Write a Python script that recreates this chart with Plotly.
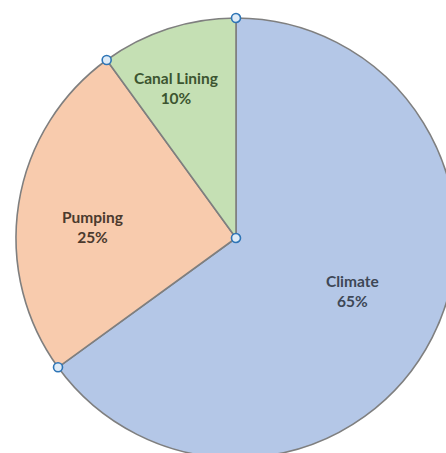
import math
import plotly.graph_objects as go

labels = ["Climate", "Pumping", "Canal Lining"]
values = [65, 25, 10]
fill_colors = ["#B4C7E7", "#F8CBAD", "#C5E0B4"]
text_colors = ["#3E4756", "#4B3A2E", "#3C5530"]

# label placement style: (angle tweak in degrees, radial fraction)
label_style = [(-2.4, 0.58), (-4.6, 0.652), (-3.8, 0.735)]

fig = go.Figure()
fig.add_trace(go.Pie(
    labels=labels, values=values, sort=False, direction="clockwise", rotation=0,
    marker=dict(colors=fill_colors, line=dict(color="#7F7F7F", width=1.6)),
    textinfo="none", hoverinfo="none", showlegend=False,
    domain=dict(x=[0, 1], y=[0, 1]),
))

# invisible data scale over the pie: radius 1 == pie radius
fig.add_trace(go.Scatter(x=[-1, 1], y=[-1, 1], mode="markers",
                         marker=dict(opacity=0), hoverinfo="none", showlegend=False))

total = sum(values)
cum = 0
bounds = []
for lab, v, tc, (dang, frac) in zip(labels, values, text_colors, label_style):
    start = 360.0 * cum / total
    mid = 360.0 * (cum + v / 2) / total + dang
    bounds.append(start)
    pct = round(100.0 * v / total)
    fig.add_annotation(
        x=frac * math.sin(math.radians(mid)), y=frac * math.cos(math.radians(mid)),
        xref="x", yref="y", showarrow=False,
        text=f"<b>{lab}</b><br><b>{pct}%</b>",
        font=dict(family="Lato", size=15.5, color=tc),
    )
    cum += v

# selection handles at slice boundaries and at the centre (paper refs: not clipped)
handle_pts = [(0.0, 0.0)] + [(math.sin(math.radians(a)), math.cos(math.radians(a))) for a in bounds]
for hx, hy in handle_pts:
    fig.add_shape(
        type="circle", xref="paper", yref="paper", xsizemode="pixel", ysizemode="pixel",
        xanchor=(hx + 1) / 2, yanchor=(hy + 1) / 2, x0=-4.5, x1=4.5, y0=-4.5, y1=4.5,
        fillcolor="#DEEBF7", line=dict(color="#2E75B6", width=1.6), layer="above",
    )

fig.update_layout(
    width=456, height=458,
    margin=dict(l=16, t=18, r=0, b=0),
    paper_bgcolor="white", plot_bgcolor="rgba(0,0,0,0)",
    xaxis=dict(range=[-1, 1], visible=False, fixedrange=True),
    yaxis=dict(range=[-1, 1], visible=False, fixedrange=True),
)

fig.write_html("out.html", config={"displayModeBar": False},
               post_script="document.body.style.margin='0';document.body.style.overflow='hidden';")
